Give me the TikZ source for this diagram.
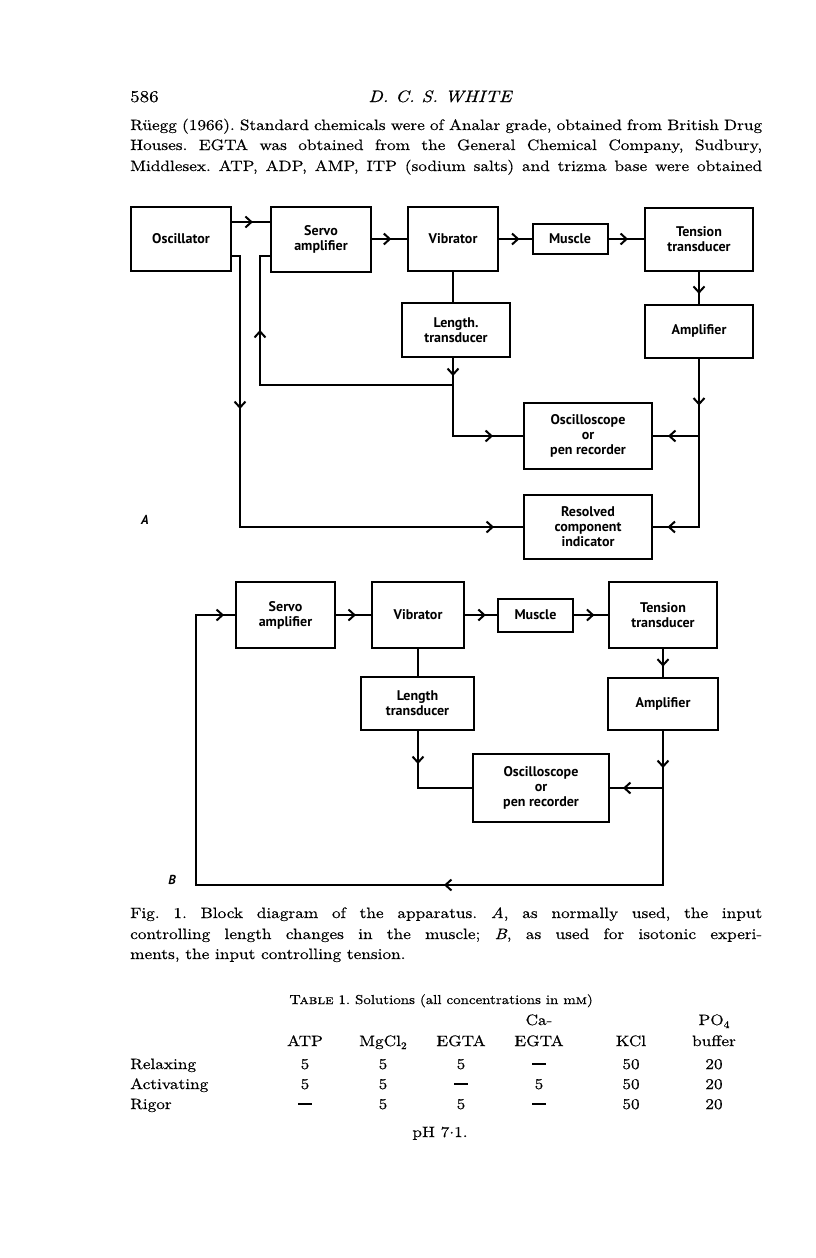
\documentclass[tikz,border=0pt]{standalone}
\usepackage{fontspec}
\setmainfont{lmroman10-regular.otf}[BoldFont=lmroman10-bold.otf, ItalicFont=lmroman10-italic.otf, SmallCapsFont=lmromancaps10-regular.otf, FakeStretch=1.15, FakeBold=0.4]
\newfontfamily\diag{PT Sans}
\usetikzlibrary{arrows.meta,decorations.markings}
\newcommand\mysub[1]{\raisebox{-3pt}{\fontsize{10}{10}\selectfont #1}}
\newcommand\nodash{\rule[4.5pt]{14pt}{1.1pt}}
\tikzset{
  bx/.style={draw, line width=2pt, inner sep=0pt, align=center, font=\diag\bfseries\fontsize{14}{15}\selectfont},
  ln/.style={line width=2pt},
  arrat/.style={postaction={decorate, decoration={markings, mark=at position #1 with {\arrow{Straight Barb[length=6pt,width=11pt]}}}}},
  txt/.style={anchor=base west, inner sep=0pt},
  ctxt/.style={anchor=base, inner sep=0pt},
  lab/.style={inner sep=0pt, font=\diag\bfseries\itshape\fontsize{13}{15}\selectfont},
}
\frenchspacing
\begin{document}
\begin{tikzpicture}[x=1pt,y=-1pt,font=\fontsize{15}{20}\selectfont]
\fill[white] (0,0) rectangle (816,1258);
\useasboundingbox (0,0) rectangle (816,1258);

% ---- running head and text ----
\node[txt, font=\fontsize{16.5}{20}\selectfont] (pg) at (130,102) {586};
\node[ctxt, font=\fontsize{16.5}{20}\selectfont\itshape] (hd) at (440,102) {D. C. S. WHITE};
\node[txt] (t1) at (130,130) {\makebox[632pt][s]{Rüegg (1966). Standard chemicals were of Analar grade, obtained from British Drug}};
\node[txt] (t2) at (130,150) {\makebox[632pt][s]{Houses. EGTA was obtained from the General Chemical Company, Sudbury,}};
\node[txt] (t3) at (130,171) {\makebox[632pt][s]{Middlesex. ATP, ADP, AMP, ITP (sodium salts) and trizma base were obtained}};

% ---- diagram A ----
\node[bx, minimum width=100pt, minimum height=64pt] (osc) at (181,239) {Oscillator};
\node[bx, minimum width=100pt, minimum height=65pt] (servoA) at (321,239) {Servo\\amplifier};
\node[bx, minimum width=90pt, minimum height=64pt] (vibA) at (453,239) {Vibrator};
\node[bx, minimum width=75pt, minimum height=30pt] (muscA) at (570,239) {Muscle};
\node[bx, minimum width=108pt, minimum height=63pt] (tensA) at (699,239) {Tension\\transducer};
\node[bx, minimum width=108pt, minimum height=54pt] (lenA) at (456,330) {Length.\\transducer};
\node[bx, minimum width=108pt, minimum height=53pt] (ampA) at (699,331) {Amplifier};
\node[bx, minimum width=128pt, minimum height=66pt] (scopeA) at (588,436) {Oscilloscope\\or\\pen recorder};
\node[bx, minimum width=128pt, minimum height=64pt] (resA) at (588,527) {Resolved\\component\\indicator};
\node[lab] (labA) at (145,520) {A};

\coordinate (cA1) at (240,527);
\coordinate (fbA) at (260,385);
\draw[ln, arrat=0.55] ([yshift=17pt]osc.east) -- ([yshift=17pt]servoA.west);
\draw[ln, arrat=0.55] (servoA.east) -- (vibA.west);
\draw[ln, arrat=0.63] (vibA.east) -- (muscA.west);
\draw[ln, arrat=0.55] (muscA.east) -- (tensA.west);
\draw[ln] (vibA.south) -- (vibA.south |- lenA.north);
\draw[ln, arrat=0.7] (tensA.south) -- (ampA.north);
\draw[ln, arrat=161pt, arrat=533pt] ([yshift=-17pt]osc.east) -| (cA1) -- (resA.west);
\draw[ln, arrat=18pt, arrat=118pt] (vibA.south |- lenA.south) |- (scopeA.west);
\draw[ln, arrat=248pt] (vibA.south |- fbA) -- (fbA) |- ([yshift=-17pt]servoA.west);
\draw[ln, arrat=47pt, arrat=200pt] (ampA.south) |- (resA.east);
\draw[ln, arrat=31pt] (ampA.south |- scopeA.east) -- (scopeA.east);

% ---- diagram B ----
\node[bx, minimum width=99pt, minimum height=66pt] (servoB) at (285.5,615) {Servo\\amplifier};
\node[bx, minimum width=92pt, minimum height=66pt] (vibB) at (418,615) {Vibrator};
\node[bx, minimum width=75pt, minimum height=33pt] (muscB) at (535.5,615) {Muscle};
\node[bx, minimum width=108pt, minimum height=66pt] (tensB) at (663,615) {Tension\\transducer};
\node[bx, minimum width=113pt, minimum height=53pt] (lenB) at (417.5,703.5) {Length\\transducer};
\node[bx, minimum width=110pt, minimum height=52pt] (ampB) at (663,704) {Amplifier};
\node[bx, minimum width=136pt, minimum height=68pt] (scopeB) at (541,788) {Oscilloscope\\or\\pen recorder};
\node[lab] (labB) at (172,880) {B};

\coordinate (cB1) at (196,885);
\draw[ln, arrat=0.57] (servoB.east) -- (vibB.west);
\draw[ln, arrat=0.65] (vibB.east) -- (muscB.west);
\draw[ln, arrat=0.6] (muscB.east) -- (tensB.west);
\draw[ln] (vibB.south) -- (vibB.south |- lenB.north);
\draw[ln, arrat=0.63] (tensB.south) -- (ampB.north);
\draw[ln, arrat=33pt] (vibB.south |- lenB.south) |- (scopeB.west);
\draw[ln, arrat=37pt, arrat=373pt, arrat=919pt] (ampB.south) |- (cB1) |- (servoB.west);
\draw[ln, arrat=40pt] (ampB.south |- scopeB.east) -- (scopeB.east);

% ---- caption ----
\node[txt] (c1) at (130,918) {\makebox[632pt][s]{Fig. 1. Block diagram of the apparatus. \textit{A}, as normally used, the input}};
\node[txt] (c2) at (130,939) {\makebox[632pt][s]{controlling length changes in the muscle; \textit{B}, as used for isotonic experi-}};
\node[txt] (c3) at (130,959) {ments, the input controlling tension.};

% ---- table ----
\node[ctxt, font=\fontsize{13}{16}\selectfont] (tt) at (441,1004) {\textsc{Table} 1. Solutions (all concentrations in m\textsc{m})};
\node[ctxt] (h1) at (539,1025) {Ca-};
\node[ctxt] (h2) at (714,1025) {PO\mysub{4}};
\node[ctxt] (h3) at (305,1046) {ATP};
\node[ctxt] (h4) at (383,1046) {MgCl\mysub{2}};
\node[ctxt] (h5) at (461,1046) {EGTA};
\node[ctxt] (h6) at (539,1046) {EGTA};
\node[ctxt] (h7) at (631,1046) {KCl};
\node[ctxt] (h8) at (714,1046) {buffer};

\node[txt] (r1) at (130,1069) {Relaxing};
\node[txt] (r2) at (130,1089) {Activating};
\node[txt] (r3) at (130,1109) {Rigor};
\foreach \y/\a/\b/\c/\d/\e/\f in {1069/5/5/5/\nodash/50/20, 1089/5/5/\nodash/5/50/20, 1109/\nodash/5/5/\nodash/50/20}{
  \node[ctxt] at (305,\y) {\a};
  \node[ctxt] at (383,\y) {\b};
  \node[ctxt] at (461,\y) {\c};
  \node[ctxt] at (539,\y) {\d};
  \node[ctxt] at (631,\y) {\e};
  \node[ctxt] at (714,\y) {\f};
}
\node[ctxt] (ph) at (440,1137) {pH 7\raisebox{3.5pt}{.}1.};
\end{tikzpicture}
\end{document}
